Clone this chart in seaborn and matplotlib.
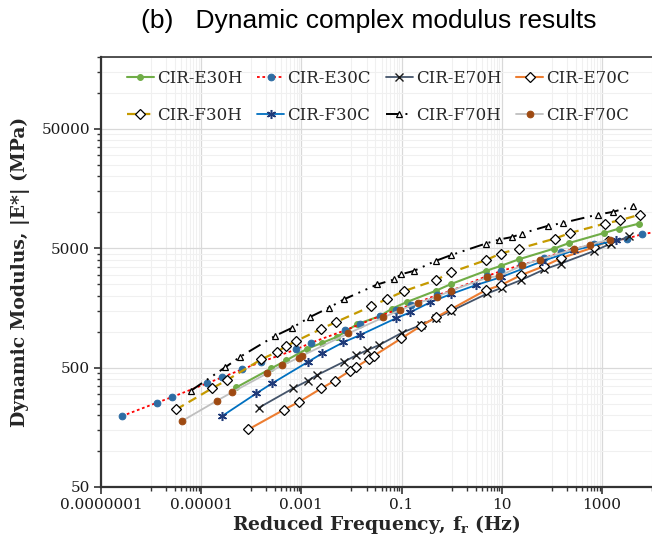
import numpy as np
import pandas as pd
import matplotlib
matplotlib.use("Agg")
import matplotlib.pyplot as plt
import seaborn as sns
from matplotlib.ticker import FixedLocator, FixedFormatter, NullFormatter

# ---------------- data ----------------
series_names = ["CIR-E30H", "CIR-E30C", "CIR-E70H", "CIR-E70C",
                "CIR-F30H", "CIR-F30C", "CIR-F70H", "CIR-F70C"]

e30h_f = [5.0e-5, 2.5e-4, 4.94e-4, 1.3e-3, 2.6e-3, 5.2e-3, 0.013, 0.0368, 0.0652, 0.13,
          0.479, 0.955, 4.79, 9.55, 22.2, 111, 222, 1112, 2218, 5570]
e30h_E = [341, 492, 574, 718, 807, 906, 1157, 1349, 1564, 1778,
          2198, 2500, 3228, 3556, 4045, 4966, 5534, 6714, 7311, 8050]

e30c_f = [2.6e-7, 1.3e-6, 2.6e-6, 1.3e-5, 2.6e-5, 6.5e-5, 1.6e-4, 7.8e-4, 1.56e-3, 7.6e-3,
          0.0151, 0.0368, 0.0759, 0.151, 0.5, 0.955, 5.0, 9.55, 24, 69, 151, 692, 3162, 6310, 19000]
e30c_E = [196, 254, 283, 369, 414, 483, 559, 710, 807, 1030,
          1157, 1349, 1514, 1667, 2021, 2198, 2917, 3213, 3606, 4121, 4634, 5400, 6030, 6550, 7080]

e70h_f = [1.4e-4, 6.8e-4, 1.34e-3, 2.06e-3, 7.0e-3, 0.0126, 0.0206, 0.0352, 0.103, 0.24,
          0.479, 0.955, 5.18, 10.3, 24, 70, 151, 702, 1514, 3516]
e70h_E = [230, 335, 388, 433, 559, 636, 700, 771, 982, 1135,
          1298, 1486, 2089, 2344, 2700, 3319, 3724, 4745, 5473, 6300]

e70c_f = [8.8e-5, 4.4e-4, 9.1e-4, 2.5e-3, 4.6e-3, 9.2e-3, 0.0126, 0.0222, 0.0279, 0.0986,
          0.24, 0.479, 0.955, 4.79, 9.55, 24, 69, 151, 692, 1318]
e70c_E = [152, 221, 259, 335, 388, 468, 508, 589, 628, 878,
          1112, 1315, 1535, 2227, 2450, 2972, 3532, 4121, 5093, 5728]

f30h_f = [3.16e-6, 1.64e-5, 3.27e-5, 1.58e-4, 3.27e-4, 4.94e-4, 7.83e-4, 2.5e-3, 5.0e-3, 0.0251,
          0.0501, 0.111, 0.479, 0.955, 4.79, 9.55, 22.2, 116, 232, 1148, 2291, 5754]
f30h_E = [223, 335, 393, 586, 678, 757, 834, 1056, 1208, 1636,
          1871, 2183, 2700, 3133, 3970, 4518, 4966, 6030, 6714, 8050, 8570, 9575]

f30c_f = [2.6e-5, 1.26e-4, 2.6e-4, 1.36e-3, 2.6e-3, 6.8e-3, 0.0147, 0.0759, 0.147, 0.368,
          0.955, 3.0, 9.55, 65, 279, 1905]
f30c_E = [196, 304, 369, 559, 657, 813, 935, 1291, 1449, 1757,
          2061, 2450, 2858, 3894, 4810, 5834]

f70h_f = [6.2e-6, 3.0e-5, 6.0e-5, 3.0e-4, 6.5e-4, 1.51e-3, 3.5e-3, 7.0e-3, 0.0327, 0.070,
          0.0986, 0.176, 0.479, 0.955, 4.79, 8.83, 16.4, 25.1, 82, 164, 820, 1637, 4111]
f70h_E = [320, 502, 616, 923, 1076, 1331, 1583, 1862, 2485, 2737,
          3030, 3228, 3917, 4368, 5473, 5912, 6220, 6637, 7687, 8145, 9575, 10070, 11220]

f70c_f = [4.1e-6, 2.06e-5, 4.1e-5, 2.06e-4, 4.1e-4, 8.8e-4, 1.03e-3, 8.6e-3, 0.043, 0.0925,
          0.216, 0.501, 0.955, 5.18, 8.83, 25.9, 57.5, 279, 575, 1445]
f70c_E = [178, 264, 310, 447, 522, 604, 628, 966, 1315, 1514,
          1742, 1955, 2198, 2844, 2917, 3606, 4019, 4909, 5370, 5912]

x_tick_values = [1e-7, 1e-5, 1e-3, 1e-1, 1e1, 1e3]
x_tick_labels = ["0.0000001", "0.00001", "0.001", "0.1", "10", "1000"]
y_tick_values = [50, 500, 5000, 50000]
y_tick_labels = ["50", "500", "5000", "50000"]

# ---------------- styling ----------------
sns.set_theme(style="white")
plt.rcParams["font.family"] = ["DejaVu Serif"]
plt.rcParams["mathtext.fontset"] = "dejavuserif"

fig = plt.figure(figsize=(6.52, 5.41), dpi=100)
ax = fig.add_axes([101 / 652, 54 / 541, 551 / 652, 430 / 541])

series = [
    (e30h_f, e30h_E, dict(color="#70AD47", linestyle="-", linewidth=1.5, marker="o", markersize=4.2,
                          markerfacecolor="#70AD47", markeredgecolor="#70AD47")),
    (e30c_f, e30c_E, dict(color="#FF0000", linestyle=(0, (1.5, 1.5)), linewidth=1.3, marker="o", markersize=4.8,
                          markerfacecolor="#2E6DA4", markeredgecolor="#2E6DA4")),
    (e70h_f, e70h_E, dict(color="#44546A", linestyle="-", linewidth=1.3, marker="x", markersize=5.5,
                          markeredgecolor="#1a1a1a", markeredgewidth=1.0)),
    (e70c_f, e70c_E, dict(color="#ED7D31", linestyle="-", linewidth=1.5, marker="D", markersize=4.8,
                          markerfacecolor="white", markeredgecolor="black", markeredgewidth=0.9)),
    (f30h_f, f30h_E, dict(color="#C59A00", linestyle=(0, (4, 2.5)), linewidth=1.6, marker="D", markersize=4.8,
                          markerfacecolor="white", markeredgecolor="black", markeredgewidth=0.9)),
    (f30c_f, f30c_E, dict(color="#0070C0", linestyle="-", linewidth=1.3, marker=(6, 2, 0), markersize=6.5,
                          markeredgecolor="#1F3A78", markeredgewidth=1.1)),
    (f70h_f, f70h_E, dict(color="black", linestyle=(0, (7, 3, 1, 3, 1, 3)), linewidth=1.4, marker="^", markersize=4.5,
                          markerfacecolor="white", markeredgecolor="black", markeredgewidth=0.9)),
    (f70c_f, f70c_E, dict(color="#BFBFBF", linestyle="-", linewidth=1.3, marker="o", markersize=4.8,
                          markerfacecolor="#9E4A12", markeredgecolor="#9E4A12")),
]

for name, (fx, ey, style) in zip(series_names, series):
    df = pd.DataFrame({"f": fx, "E": ey})
    sns.lineplot(data=df, x="f", y="E", ax=ax, sort=False, estimator=None, label=name, **style)

ax.set_xscale("log")
ax.set_yscale("log")
ax.set_xlim(1e-7, 1e4)
ax.set_ylim(50, 200000)

# x ticks: major every 2 decades, minor 1..9 x 10^odd
ax.xaxis.set_major_locator(FixedLocator(x_tick_values))
ax.xaxis.set_major_formatter(FixedFormatter(x_tick_labels))
x_minor = [m * 10.0 ** e for e in range(-6, 5, 2) for m in range(1, 10)]
ax.xaxis.set_minor_locator(FixedLocator(x_minor))
ax.xaxis.set_minor_formatter(NullFormatter())

ax.yaxis.set_major_locator(FixedLocator(y_tick_values))
ax.yaxis.set_major_formatter(FixedFormatter(y_tick_labels))
y_minor = [m * 50 * 10.0 ** e for e in range(0, 4) for m in range(2, 10)]
ax.yaxis.set_minor_locator(FixedLocator(y_minor))
ax.yaxis.set_minor_formatter(NullFormatter())

ax.grid(True, which="major", color="#D9D9D9", linewidth=0.9)
ax.grid(True, which="minor", color="#F0F0F0", linewidth=0.8)
ax.set_axisbelow(True)

for side in ["left", "bottom"]:
    ax.spines[side].set_color("#333333")
    ax.spines[side].set_linewidth(1.6)
ax.spines["top"].set_color("#333333")
ax.spines["top"].set_linewidth(1.2)
ax.spines["right"].set_visible(False)

ax.tick_params(axis="both", which="major", direction="out", length=5, width=1.2, color="#333333",
               labelsize=11, labelcolor="#1a1a1a", bottom=True, left=True, pad=3)
ax.tick_params(axis="both", which="minor", direction="out", length=3, width=1.0, color="#333333",
               bottom=True, left=True)

ax.set_xlabel(r"Reduced Frequency, f$_\mathbf{r}$ (Hz)", fontsize=13.5, fontweight="bold", labelpad=1)
ax.set_ylabel("Dynamic Modulus, |E*| (MPa)", fontsize=13.5, fontweight="bold", labelpad=8)

# legend laid out row by row (4 per row)
handles, labels = ax.get_legend_handles_labels()
order = [0, 4, 1, 5, 2, 6, 3, 7]
leg = ax.legend([handles[i] for i in order], [labels[i] for i in order],
                ncol=4, loc="upper left", bbox_to_anchor=(0.035, 0.985), frameon=False,
                fontsize=12, handlelength=1.6, handletextpad=0.2, columnspacing=0.9,
                labelspacing=1.2, borderaxespad=0)

fig.text(0.566, 0.962, "(b)   Dynamic complex modulus results", ha="center", va="center",
         fontsize=19, family=["Liberation Sans"], color="black")

fig.savefig("out.png", dpi=100)
